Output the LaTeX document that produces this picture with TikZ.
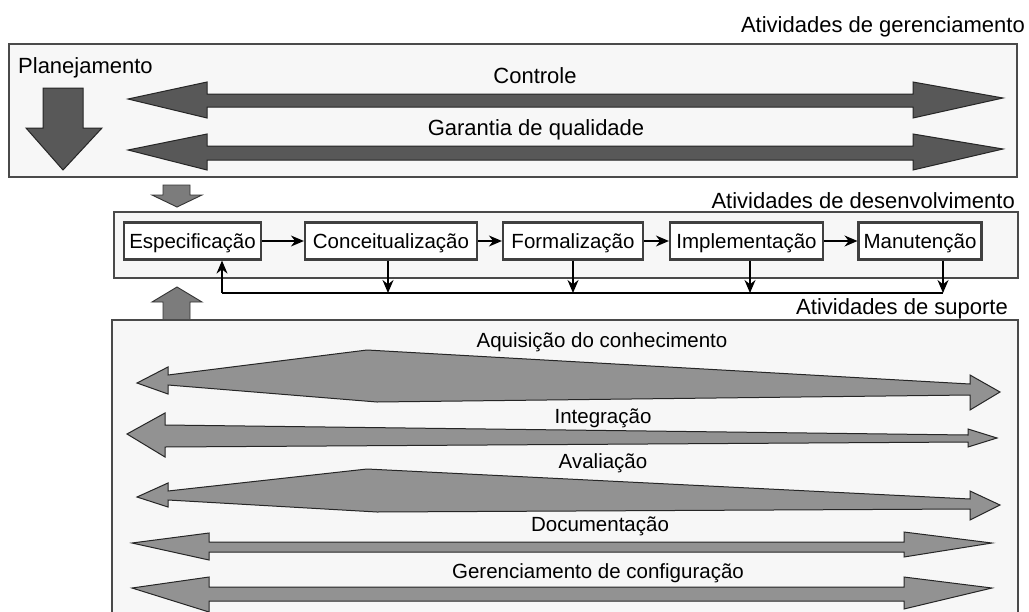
\documentclass[tikz,border=0pt]{standalone}
\usepackage{fontspec}
\setmainfont{Liberation Sans}
\usetikzlibrary{arrows.meta,positioning}

\definecolor{boxfill}{HTML}{F7F7F7}
\definecolor{boxline}{HTML}{4A4A4A}
\definecolor{darkarrow}{HTML}{585858}
\definecolor{midarrow}{HTML}{7C7C7C}
\definecolor{lightarrow}{HTML}{929292}

\tikzset{
  areabox/.style={draw=boxline, fill=boxfill, line width=1.1pt},
  mgmtarrow/.style={draw=black!85, fill=darkarrow, line width=1pt},
  suparrow/.style={draw=black!85, fill=lightarrow, line width=1pt},
  blockarrow/.style={draw=black!80, fill=midarrow, line width=0.9pt},
  phase/.style={draw=black!75, fill=white, line width=2.2pt, minimum height=37pt,
    inner xsep=5pt, text height=15pt, text depth=1pt, font=\fontsize{20.5}{24}\selectfont},
  flow/.style={-{Stealth[length=13pt,width=11pt]}, line width=1.2pt},
  areatitle/.style={anchor=base east, inner sep=0pt, font=\fontsize{22}{26}\selectfont},
  mgmttext/.style={anchor=base, inner sep=0pt, font=\fontsize{22}{26}\selectfont},
  suptext/.style={anchor=base, inner sep=0pt, font=\fontsize{20.5}{24}\selectfont}
}

\begin{document}
\begin{tikzpicture}[x=1pt,y=-1pt]

				\clip (0,0) rectangle (1029,611);

				% GERENCIAMENTO

				\draw[areabox] (9,44) rectangle (1017,177);
				\node[areatitle] (tger) at (1025,32) {Atividades de gerenciamento};
				\node[mgmttext, anchor=base west] (plan) at (18,73) {Planejamento};
				\draw[mgmtarrow] (43,88) -- (83,88) -- (83,128) -- (102,128) -- (63,170) -- (26,128) -- (43,128) -- cycle;

				\node[mgmttext] (ctrl) at (535,83) {Controle};
				\draw[mgmtarrow] (128,99) -- (207,82) -- (207,94) -- (913,94) -- (913,82) -- (1003,98)
					-- (913,118) -- (913,107) -- (207,107) -- (207,118) -- cycle;

				\node[mgmttext] (qual) at (536,135) {Garantia de qualidade};
				\draw[mgmtarrow] (128,150) -- (207,134) -- (207,146) -- (913,146) -- (913,134) -- (1003,149)
					-- (913,170) -- (913,160) -- (207,160) -- (207,170) -- cycle;

				\draw[blockarrow] (163,185) -- (190,185) -- (190,195) -- (202,195) -- (177,207) -- (152,195) -- (163,195) -- cycle;

				% DESENVOLVIMENTO

				\draw[areabox] (114,212) rectangle (1018,278);
				\node[areatitle] (tdes) at (1015,208) {Atividades de desenvolvimento};

				\node[phase, minimum width=135pt] (esp) at (192.5,241) {Especificação};
				\node[phase, minimum width=172pt] (conc) at (391,241) {Conceitualização};
				\node[phase, minimum width=140pt] (form) at (573,241) {Formalização};
				\node[phase, minimum width=153pt] (impl) at (746.5,241) {Implementação};
				\node[phase, minimum width=120pt] (man) at (920,241) {Manutenção};

				\draw[flow] (esp) to (conc);
				\draw[flow] (conc) to (form);
				\draw[flow] (form) to (impl);
				\draw[flow] (impl) to (man);

				\coordinate (fbl) at (222,293);
				\coordinate (fbr) at (943,293);
				\draw[line width=1.8pt] (fbl) -- (fbr);
				\draw[flow] (fbl) -- (esp.south -| fbl);
				\draw[flow] ([xshift=-3pt]conc.south) -- ([xshift=-3pt]conc.south |- fbl);
				\draw[flow] (form.south) -- (form.south |- fbl);
				\draw[flow] ([xshift=3.5pt]impl.south) -- ([xshift=3.5pt]impl.south |- fbl);
				\draw[flow] (man.south -| fbr) -- (fbr);

				\draw[blockarrow] (177,287) -- (202,302) -- (190,302) -- (190,320) -- (163,320) -- (163,302) -- (152,302) -- cycle;

				% SUPORTE

				\node[areatitle] (tsup) at (1008,314) {Atividades de suporte};
				\draw[areabox] (112,320) rectangle (1018,640);

				\node[suptext] (aquis) at (602,347) {Aquisição do conhecimento};
				\draw[suparrow] (137,383) -- (168,367) -- (168,375) -- (367,350) -- (970,384) -- (970,375) -- (1000,392)
					-- (970,410) -- (970,395) -- (377,402) -- (168,385) -- (168,394) -- cycle;

				\node[suptext] (integ) at (603,423) {Integração};
				\draw[suparrow] (127,434) -- (165,413) -- (165,425) -- (968,435) -- (968,429) -- (997,438)
					-- (968,447) -- (968,442) -- (165,447) -- (165,457) -- cycle;

				\node[suptext] (aval) at (603,468) {Avaliação};
				\draw[suparrow] (137,497) -- (168,483) -- (168,491) -- (367,469) -- (970,499) -- (970,491) -- (1000,505)
					-- (970,520) -- (970,509) -- (377,512) -- (168,500) -- (168,507) -- cycle;

				\node[suptext] (doc) at (600,531) {Documentação};
				\draw[suparrow] (132,543) -- (209,533) -- (209,542) -- (904,542) -- (904,532) -- (992,543)
					-- (904,557) -- (904,552) -- (209,552) -- (209,560) -- cycle;

				\node[suptext] (conf) at (598,578) {Gerenciamento de configuração};
				\draw[suparrow] (132,588) -- (209,577) -- (209,587) -- (904,587) -- (904,577) -- (992,588)
					-- (904,609) -- (904,601) -- (209,601) -- (209,612) -- cycle;
			\end{tikzpicture}
\end{document}
